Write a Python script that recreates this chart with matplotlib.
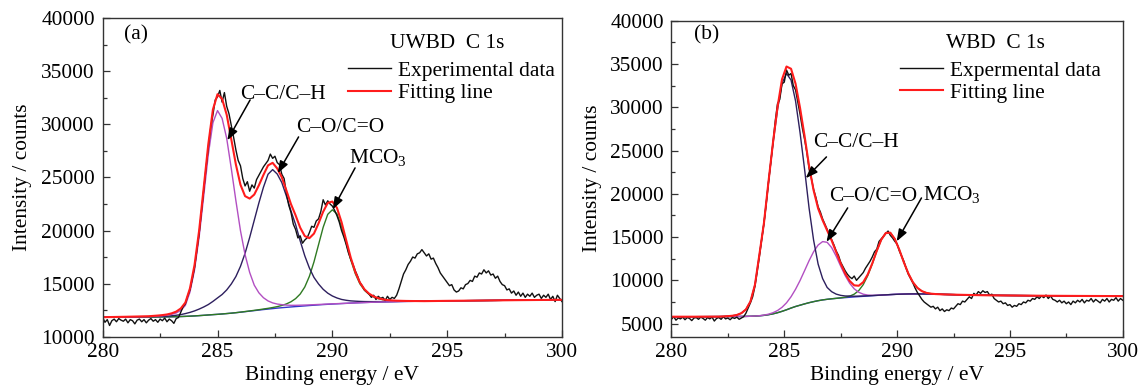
import numpy as np
import matplotlib
matplotlib.use('Agg')
import matplotlib.pyplot as plt
from matplotlib.ticker import MultipleLocator

plt.rcParams['font.family'] = ['Liberation Serif', 'DejaVu Serif']
plt.rcParams['mathtext.fontset'] = 'custom'
plt.rcParams['mathtext.rm'] = 'Liberation Serif'
plt.rcParams['mathtext.default'] = 'regular'
FS = 15.4

# ---------------- Panel (a): UWBD C 1s ----------------
# experimental data, 280.0 ... 300.0 eV every 0.1 eV
exp_a = [
    11800, 11350, 11600, 11050, 11500, 11650, 11400, 11700, 11550, 11450,
    11650, 11300, 11600, 11500, 11200, 11550, 11650, 11400, 11600, 11300,
    11550, 11700, 11450, 11600, 11350, 11650, 11500, 11750, 11400, 11650,
    11500, 11250, 11700, 11800, 12300, 12800, 13100, 13800, 14400, 15400,
    16500, 18100, 19700, 21800, 23800, 25900, 27800, 29600, 30900, 32300,
    32600, 33200, 32100, 33000, 31700, 31000, 29900, 28800, 27600, 26600,
    26100, 24900, 24200, 24600, 23700, 24300, 24000, 24800, 25200, 25600,
    26000, 26300, 26600, 27200, 26800, 27000, 26400, 26200, 25300, 24900,
    23500, 22400, 21700, 20600, 20100, 19300, 19500, 18800, 19100, 19300,
    19800, 20400, 20300, 20900, 21100, 21800, 22900, 22400, 22800, 22500,
    22300, 21900, 21400, 20800, 20000, 19400, 18700, 17900, 17300, 16800,
    16200, 15700, 15100, 14800, 14400, 14200, 14000, 13700, 13900, 13500,
    13800, 13600, 13700, 13400, 13800, 13500, 13700, 13600, 13900, 14500,
    15200, 15900, 16300, 16800, 17100, 17500, 17400, 17800, 17900, 18200,
    17900, 17600, 17800, 17300, 17400, 16900, 16500, 16000, 15700, 15400,
    15100, 14800, 14900, 14400, 14200, 14300, 14600, 14500, 14900, 15000,
    15300, 15200, 15700, 15600, 16000, 15900, 16300, 16000, 16200, 15800,
    15900, 15500, 15700, 15200, 14900, 14800, 14400, 14500, 14100, 14300,
    13900, 14200, 13800, 14100, 13700, 14000, 13800, 14100, 13700, 13900,
    14000, 13600, 13900, 13700, 14000, 13500, 13800, 13300, 13900, 13600,
    13300]

# fit grid for (a): 280, 281, 282.0..294.0 step 0.2, 295, 296.5, 298, 300
fitE_a = np.concatenate([[280, 281], np.linspace(282.0, 294.0, 61), [295, 296.5, 298, 300]])

bg_a = [11830, 11840,
    11850, 11852, 11855, 11858, 11862, 11870, 11880, 11892, 11908, 11928,
    11950, 11978, 12008, 12040, 12072, 12100, 12135, 12172, 12210, 12255,
    12300, 12350, 12400, 12450, 12500, 12550, 12595, 12640, 12685, 12725,
    12760, 12795, 12830, 12862, 12895, 12930, 12960, 12990, 13020, 13045,
    13070, 13092, 13114, 13135, 13158, 13180, 13197, 13213, 13228, 13244,
    13260, 13270, 13280, 13290, 13300, 13310, 13316, 13322, 13328, 13334,
    13340,
    13370, 13400, 13435, 13470]

# C-C/C-H component (height above background)
cc_a = [0, 20,
    40, 60, 80, 110, 160, 230, 345, 576, 1037, 2266,
    4339, 7411, 11251, 15130, 18086, 19200, 18432, 16512, 13632, 10560,
    7680, 5376, 3648, 2400, 1632, 1114, 768, 538, 384, 288,
    211, 154, 120, 100, 80, 60, 50, 40, 30, 25,
    20, 15, 10, 5, 0, 0, 0, 0, 0, 0,
    0, 0, 0, 0, 0, 0, 0, 0, 0, 0,
    0,
    0, 0, 0, 0]

# C-O/C=O component
co_a = [0, 10,
    30, 40, 50, 60, 65, 92, 131, 183, 262, 354,
    472, 616, 786, 983, 1245, 1546, 1834, 2227, 2751, 3406,
    4323, 5502, 6943, 8515, 10087, 11528, 12707, 13100, 12640, 11790,
    10480, 9040, 7730, 6160, 4720, 3540, 2620, 1970, 1440, 1050,
    760, 550, 390, 290, 210, 160, 120, 90, 70, 50,
    40, 30, 25, 20, 15, 12, 10, 8, 6, 5,
    4,
    0, 0, 0, 0]

# MCO3 component
mco_a = [0, 0,
    0, 0, 0, 0, 0, 0, 0, 0, 0, 0,
    0, 0, 0, 0, 0, 0, 0, 0, 0, 0,
    8, 12, 18, 25, 35, 50, 70, 100, 140, 210,
    320, 490, 750, 1150, 1780, 2750, 4080, 5680, 7280, 8480,
    8880, 8480, 7280, 5680, 4080, 2750, 1780, 1150, 750, 490,
    320, 210, 140, 100, 70, 50, 35, 25, 18, 9,
    0,
    0, 0, 0, 0]

# ---------------- Panel (b): WBD C 1s ----------------
exp_b = [
    5500, 5800, 5400, 5650, 5550, 5750, 5450, 5700, 5600, 5350,
    5650, 5700, 5500, 5750, 5600, 5400, 5700, 5550, 5750, 5300,
    5600, 5700, 5500, 5800, 5550, 5650, 5450, 5700, 5600, 5750,
    5500, 5650, 5800, 6200, 6800, 7400, 8100, 9300, 11000, 12800,
    14700, 16600, 18800, 21300, 23600, 25900, 28400, 30400, 30900, 32700,
    32900, 34300, 33700, 33900, 32500, 32000, 30600, 29200, 27600, 26300,
    24800, 22900, 21800, 20500, 19600, 18500, 17900, 17100, 16500, 15900,
    15300, 14700, 14100, 13400, 12900, 12100, 11600, 11100, 10700, 10400,
    10200, 10500, 10000, 10300, 10600, 10900, 11400, 11800, 12200, 12700,
    13300, 13600, 14500, 14800, 15100, 15400, 15700, 15200, 14900, 14500,
    14200, 13400, 12800, 12200, 11400, 10700, 10200, 9700, 9100, 8600,
    8200, 7800, 7500, 7300, 7100, 6900, 7000, 6700, 6900, 6500,
    6700, 6400, 6600, 6500, 6800, 6700, 7000, 7300, 7200, 7600,
    7500, 7800, 8100, 7900, 8500, 8300, 8700, 8500, 8800, 8600,
    8700, 8300, 8400, 7900, 7700, 7500, 7600, 7300, 7400, 7100,
    7200, 6900, 7100, 7000, 7300, 7200, 7500, 7400, 7700, 7600,
    7900, 7800, 8100, 7900, 8200, 8000, 8300, 7900, 8200, 7800,
    7700, 7500, 7700, 7400, 7600, 7300, 7500, 7200, 7600, 7400,
    7700, 7500, 7800, 7400, 7700, 7600, 7900, 7500, 7800, 7600,
    7400, 7800, 7600, 7900, 7500, 7800, 7700, 8000, 7600, 7900,
    7700]

# fit grid for (b): 280, 281, 282.1..293.9 step 0.2, 295, 296.5, 298, 300
fitE_b = np.concatenate([[280, 281], np.linspace(282.1, 293.9, 60), [295, 296.5, 298, 300]])

bg_b = [5800, 5800,
    5810, 5812, 5815, 5818, 5822, 5828, 5836, 5850, 5872, 5905,
    5955, 6030, 6130, 6260, 6420, 6600, 6800, 6980, 7130, 7280,
    7420, 7540, 7650, 7740, 7810, 7870, 7920, 7965, 8005, 8045,
    8085, 8120, 8155, 8190, 8225, 8260, 8295, 8325, 8355, 8380,
    8400, 8415, 8428, 8435, 8435, 8430, 8422, 8412, 8400, 8388,
    8375, 8362, 8350, 8338, 8326, 8315, 8305, 8295, 8285, 8276,
    8250, 8220, 8200, 8180]

cc_b = [0, 0,
    0, 20, 50, 90, 180, 380, 800, 1700, 3600, 7100,
    10650, 15290, 19660, 23480, 26340, 27300, 26340, 23750, 19930, 15560,
    10920, 7100, 4230, 2460, 1370, 820, 490, 300, 190, 140,
    80, 60, 40, 30, 20, 10, 5, 0, 0, 0,
    0, 0, 0, 0, 0, 0, 0, 0, 0, 0,
    0, 0, 0, 0, 0, 0, 0, 0, 0, 0,
    0, 0, 0, 0]

co_b = [0, 0,
    0, 0, 0, 0, 0, 0, 0, 0, 5, 12,
    28, 62, 129, 253, 466, 805, 1305, 1991, 2852, 3839,
    4853, 5763, 6429, 6737, 6588, 5913, 4867, 3675, 2544, 1615,
    939, 503, 246, 111, 45, 20, 8, 0, 0, 0,
    0, 0, 0, 0, 0, 0, 0, 0, 0, 0,
    0, 0, 0, 0, 0, 0, 0, 0, 0, 0,
    0, 0, 0, 0]

mco_b = [0, 0,
    0, 0, 0, 0, 0, 0, 0, 0, 0, 0,
    0, 0, 0, 0, 0, 0, 0, 0, 0, 0,
    0, 0, 0, 0, 0, 0, 0, 16, 49, 131,
    319, 694, 1349, 2356, 3669, 5126, 6398, 7149, 7149, 6398,
    5126, 3669, 2356, 1349, 694, 319, 131, 49, 16, 5,
    0, 0, 0, 0, 0, 0, 0, 0, 0, 0,
    0, 0, 0, 0]

# ---------------- colours ----------------
C_EXP = '#111111'
C_FIT = '#ff1c1c'
C_PUR = '#b24fc2'
C_NAV = '#2d1f5e'
C_GRN = '#2f7a22'
C_BLU = '#3434c8'


def draw(ax, E_exp, I_exp, E_fit, bg, c1, c2, c3, col1, col2, exp_label):
    bg = np.asarray(bg, float)
    c1 = np.asarray(c1, float)
    c2 = np.asarray(c2, float)
    c3 = np.asarray(c3, float)
    ax.plot(E_fit, bg, color=C_BLU, lw=1.0)
    ax.plot(E_fit, bg + c3, color=C_GRN, lw=1.0)
    ax.plot(E_fit, bg + c2, color=col2, lw=1.0)
    ax.plot(E_fit, bg + c1, color=col1, lw=1.0)
    l1, = ax.plot(E_exp, I_exp, color=C_EXP, lw=1.0, label=exp_label)
    l2, = ax.plot(E_fit, bg + c1 + c2 + c3, color=C_FIT, lw=1.5, label='Fitting line')
    return l1, l2


def style(ax, ylim, yticks, legend_handles, leg_anchor):
    ax.set_xlim(280, 300)
    ax.set_ylim(*ylim)
    ax.set_xticks([280, 285, 290, 295, 300])
    ax.xaxis.set_minor_locator(MultipleLocator(2.5))
    ax.set_yticks(yticks)
    ax.yaxis.set_minor_locator(MultipleLocator(2500))
    ax.tick_params(which='both', direction='in', top=False, right=False,
                   labelsize=FS, width=0.9, color='#333333')
    ax.tick_params(which='major', length=5)
    ax.tick_params(which='minor', length=3)
    ax.tick_params(axis='x', pad=4.5)
    ax.tick_params(axis='y', pad=5.5)
    for s in ax.spines.values():
        s.set_linewidth(1.0)
        s.set_color('#333333')
    ax.set_xlabel('Binding energy / eV', fontsize=FS)
    ax.set_ylabel('Intensity / counts', fontsize=FS)
    ax.xaxis.set_label_coords(0.5, -0.092)
    ax.yaxis.set_label_coords(-0.154, 0.5)
    ax.legend(handles=legend_handles, loc='upper left', bbox_to_anchor=leg_anchor,
              frameon=False, fontsize=FS, handlelength=2.0, handletextpad=0.35,
              labelspacing=0.1, borderpad=0, borderaxespad=0)


ARROW = dict(arrowstyle='-|>,head_length=0.6,head_width=0.22', lw=1.1, color='k',
             shrinkA=0, shrinkB=0, mutation_scale=12)

fig = plt.figure(figsize=(11.46, 3.91), dpi=100)
ax_a = fig.add_axes([0.0896, 0.1391, 0.4008, 0.8141])
ax_b = fig.add_axes([0.5859, 0.1391, 0.3938, 0.8080])

E_exp_a = np.linspace(280, 300, len(exp_a))
E_exp_b = np.linspace(280, 300, len(exp_b))

h_a = draw(ax_a, E_exp_a, exp_a, fitE_a, bg_a, cc_a, co_a, mco_a, C_PUR, C_NAV, 'Experimental data')
style(ax_a, (10000, 40000), np.arange(10000, 40001, 5000), h_a, (0.534, 0.866))

h_b = draw(ax_b, E_exp_b, exp_b, fitE_b, bg_b, cc_b, co_b, mco_b, C_NAV, C_PUR, 'Expermental data')
style(ax_b, (3500, 40000), np.arange(5000, 40001, 5000), h_b, (0.506, 0.873))

# annotations panel (a)
ax_a.text(280.93, 38430, '(a)', fontsize=FS, ha='left', va='center')
ax_a.text(295.0, 37670, 'UWBD  C 1s', fontsize=FS, ha='center', va='center')
ax_a.text(287.85, 32800, 'C–C/C–H', fontsize=FS, ha='center', va='center')
ax_a.annotate('', xy=(285.43, 28500), xytext=(286.42, 32310), arrowprops=ARROW)
ax_a.text(290.34, 29700, 'C–O/C=O', fontsize=FS, ha='center', va='center')
ax_a.annotate('', xy=(287.62, 25400), xytext=(288.53, 28820), arrowprops=ARROW)
ax_a.text(290.73, 26370, 'MCO$_3$', fontsize=FS, ha='left', va='baseline')
ax_a.annotate('', xy=(290.02, 22000), xytext=(290.99, 25900), arrowprops=ARROW)

# annotations panel (b)
ax_b.text(281.0, 38350, '(b)', fontsize=FS, ha='left', va='center')
ax_b.text(294.36, 37420, 'WBD  C 1s', fontsize=FS, ha='center', va='center')
ax_b.text(288.16, 25880, 'C–C/C–H', fontsize=FS, ha='center', va='center')
ax_b.annotate('', xy=(285.95, 21800), xytext=(286.87, 24260), arrowprops=ARROW)
ax_b.text(288.92, 19640, 'C–O/C=O', fontsize=FS, ha='center', va='center')
ax_b.annotate('', xy=(286.87, 14440), xytext=(287.81, 18370), arrowprops=ARROW)
ax_b.text(291.17, 19300, 'MCO$_3$', fontsize=FS, ha='left', va='baseline')
ax_b.annotate('', xy=(289.98, 14500), xytext=(291.08, 19520), arrowprops=ARROW)

fig.savefig('out.png', dpi=100)
